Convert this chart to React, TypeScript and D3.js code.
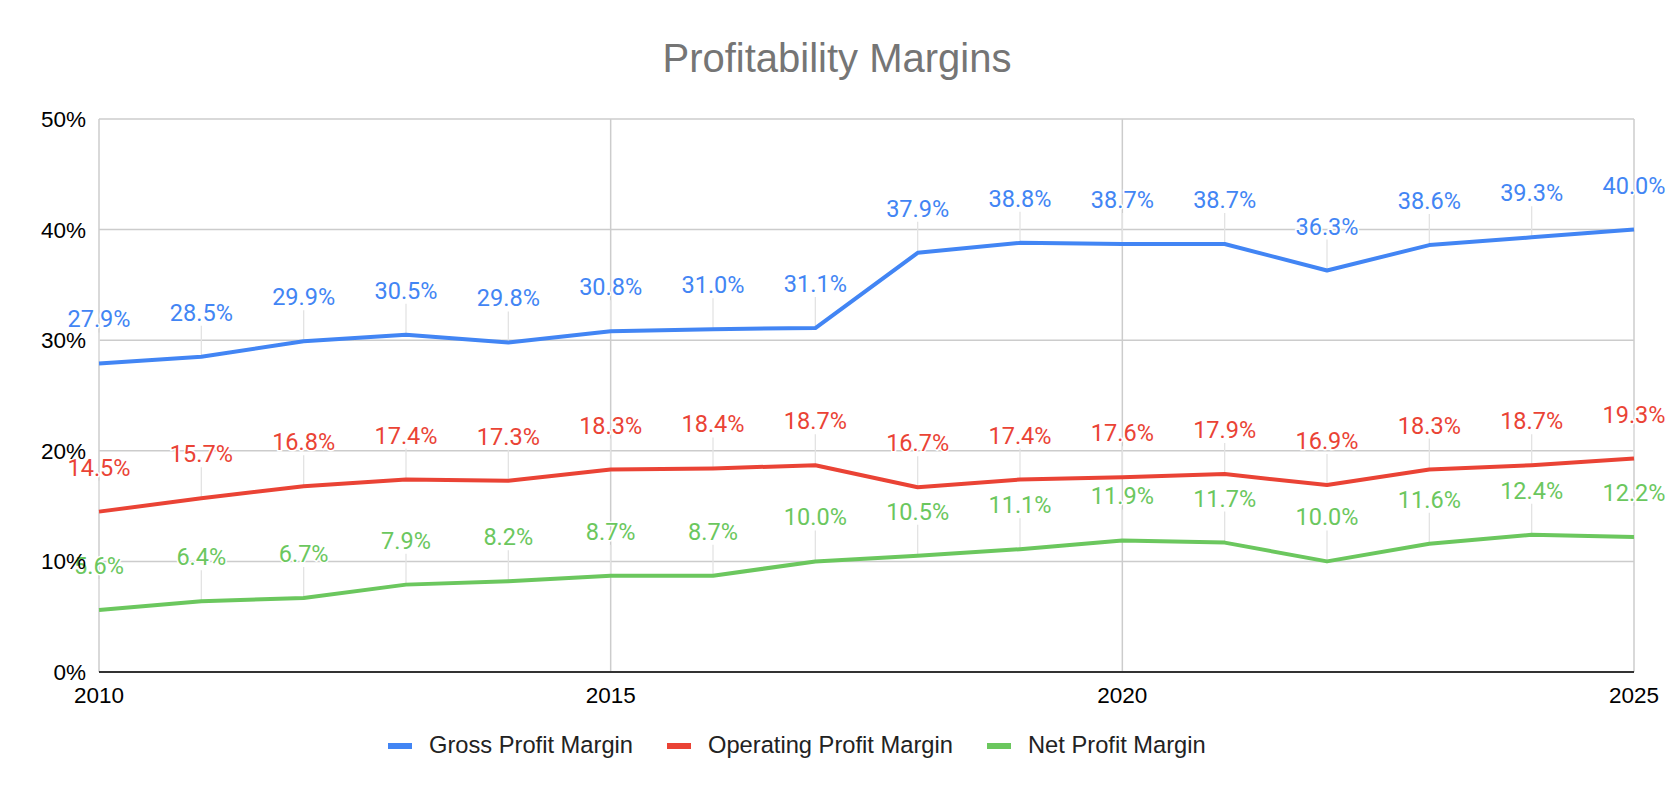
import React, { useEffect, useRef } from "react";
import * as d3 from "d3";

const years = [2010, 2011, 2012, 2013, 2014, 2015, 2016, 2017, 2018, 2019, 2020, 2021, 2022, 2023, 2024, 2025];
const grossMargin = [27.9, 28.5, 29.9, 30.5, 29.8, 30.8, 31.0, 31.1, 37.9, 38.8, 38.7, 38.7, 36.3, 38.6, 39.3, 40.0];
const operatingMargin = [14.5, 15.7, 16.8, 17.4, 17.3, 18.3, 18.4, 18.7, 16.7, 17.4, 17.6, 17.9, 16.9, 18.3, 18.7, 19.3];
const netMargin = [5.6, 6.4, 6.7, 7.9, 8.2, 8.7, 8.7, 10.0, 10.5, 11.1, 11.9, 11.7, 10.0, 11.6, 12.4, 12.2];
const seriesNames = ["Gross Profit Margin", "Operating Profit Margin", "Net Profit Margin"];
const seriesColors = ["#4285F4", "#EA4335", "#6BC75E"];
const yTicks = [0, 10, 20, 30, 40, 50];
const xTicks = [2010, 2015, 2020, 2025];
const title = "Profitability Margins";

const W = 1674;
const H = 798;

export default function App() {
  const ref = useRef<SVGSVGElement | null>(null);

  useEffect(() => {
    document.body.style.margin = "0";
    const svg = d3.select(ref.current);
    svg.selectAll("*").remove();

    const left = 99, right = 1634, top = 119, bottom = 672;
    const x = d3.scaleLinear().domain([2010, 2025]).range([left, right]);
    const y = d3.scaleLinear().domain([0, 50]).range([bottom, top]);
    const axisFont = "Arial, 'Liberation Sans', sans-serif";
    const labelFont = "Roboto, 'Noto Sans', sans-serif";

    svg.append("rect").attr("width", W).attr("height", H).attr("fill", "#fff");

    svg.append("text")
      .attr("x", W / 2).attr("y", 72)
      .attr("text-anchor", "middle")
      .attr("font-family", axisFont).attr("font-size", 40)
      .attr("fill", "#757575")
      .text(title);

    // gridlines
    const g = svg.append("g");
    g.selectAll("line.h").data(yTicks.filter(t => t !== 0)).join("line")
      .attr("x1", left).attr("x2", right)
      .attr("y1", d => y(d)).attr("y2", d => y(d))
      .attr("stroke", "#cccccc").attr("stroke-width", 1.5);
    g.selectAll("line.v").data(xTicks).join("line")
      .attr("x1", d => x(d)).attr("x2", d => x(d))
      .attr("y1", top).attr("y2", bottom)
      .attr("stroke", "#cccccc").attr("stroke-width", 1.5);

    const series = [grossMargin, operatingMargin, netMargin];

    // leader lines
    series.forEach((vals) => {
      svg.append("g").selectAll("line").data(vals).join("line")
        .attr("x1", (_, i) => x(years[i])).attr("x2", (_, i) => x(years[i]))
        .attr("y1", d => y(d) - 31).attr("y2", d => y(d))
        .attr("stroke", "#e3e3e3").attr("stroke-width", 1.3);
    });

    // baseline axis
    svg.append("line")
      .attr("x1", left).attr("x2", right)
      .attr("y1", bottom).attr("y2", bottom)
      .attr("stroke", "#333").attr("stroke-width", 1.8);

    // lines
    const line = d3.line<number>()
      .x((_, i) => x(years[i]))
      .y(d => y(d));
    series.forEach((vals, si) => {
      svg.append("path")
        .datum(vals)
        .attr("d", line)
        .attr("fill", "none")
        .attr("stroke", seriesColors[si])
        .attr("stroke-width", 4)
        .attr("stroke-linejoin", "round");
    });

    // data labels
    series.forEach((vals, si) => {
      svg.append("g").selectAll("text").data(vals).join("text")
        .attr("x", (_, i) => x(years[i]))
        .attr("y", d => y(d) - 36)
        .attr("text-anchor", "middle")
        .attr("font-family", labelFont).attr("font-size", 23.5)
        .attr("fill", seriesColors[si])
        .attr("stroke", "#fff").attr("stroke-width", 3)
        .attr("paint-order", "stroke")
        .text(d => d.toFixed(1) + "%");
    });

    // y-axis labels
    svg.append("g").selectAll("text").data(yTicks).join("text")
      .attr("x", left - 13)
      .attr("y", d => y(d) + 8)
      .attr("text-anchor", "end")
      .attr("font-family", axisFont).attr("font-size", 22.5)
      .attr("fill", "#000")
      .text(d => d + "%");

    // x-axis labels
    svg.append("g").selectAll("text").data(xTicks).join("text")
      .attr("x", d => x(d))
      .attr("y", 703)
      .attr("text-anchor", "middle")
      .attr("font-family", axisFont).attr("font-size", 22.5)
      .attr("fill", "#000")
      .text(d => String(d));

    // legend
    const legendX = [388, 667, 987];
    const lg = svg.append("g");
    seriesNames.forEach((name, i) => {
      lg.append("rect")
        .attr("x", legendX[i]).attr("y", 743)
        .attr("width", 24).attr("height", 6)
        .attr("fill", seriesColors[i]);
      lg.append("text")
        .attr("x", legendX[i] + 41).attr("y", 753)
        .attr("font-family", axisFont).attr("font-size", 23.7)
        .attr("fill", "#222")
        .text(name);
    });
  }, []);

  return (
    <svg
      ref={ref}
      width={W}
      height={H}
      style={{ position: "absolute", left: 0, top: 0, display: "block" }}
    />
  );
}
